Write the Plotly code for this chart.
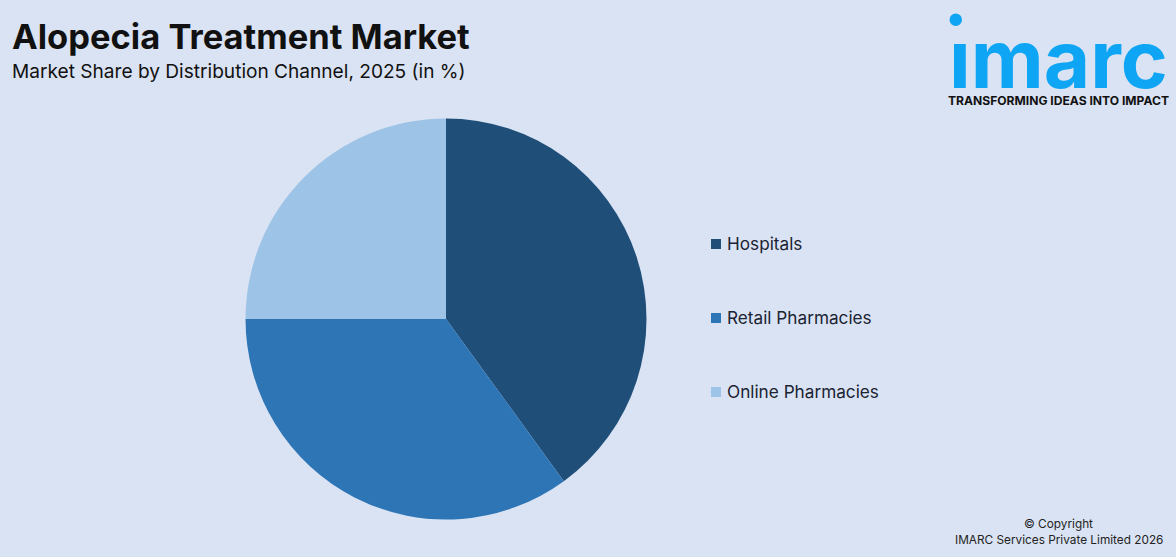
import plotly.graph_objects as go

W = 1176
H = 557

# chart data
channels = ["Hospitals", "Retail Pharmacies", "Online Pharmacies"]
shares = [40, 35, 25]
colors = ["#1f4e79", "#2e75b6", "#9dc3e6"]
legend_rows = [244, 318, 392]

BG = "#dae3f3"
LOGO = "#0ea5f4"
FONT = "Inter"


def px(x):
    return x / W


def py(y):
    return 1 - y / H


def label(x, y, text, size, color="#111111", anchor="left", family=FONT):
    fig.add_annotation(
        x=px(x), y=py(y), xref="paper", yref="paper",
        text=text, showarrow=False, xanchor=anchor, yanchor="middle",
        font=dict(family=family, size=size, color=color),
    )


fig = go.Figure(
    go.Pie(
        labels=channels,
        values=shares,
        sort=False,
        direction="clockwise",
        rotation=0,
        textinfo="none",
        hoverinfo="label+percent",
        marker=dict(colors=colors, line=dict(width=0)),
        domain=dict(x=[px(245.5), px(646.5)], y=[py(519.5), py(118.5)]),
        showlegend=False,
    )
)

# titles
label(10, 36, "<b>Alopecia Treatment Market</b>", 34.5)
label(10, 71, "Market Share by Distribution Channel, 2025 (in %)", 19.1)

# legend
for name, color, row in zip(channels, colors, legend_rows):
    fig.add_shape(
        type="rect", xref="paper", yref="paper",
        x0=px(711), x1=px(721), y0=py(row - 5), y1=py(row + 5),
        fillcolor=color, line_width=0,
    )
    label(725, row - 1, name, 17.2, color="#1a2433")

# logo
fig.add_shape(
    type="circle", xref="paper", yref="paper",
    x0=px(949.5), x1=px(962), y0=py(13.5), y1=py(26),
    fillcolor=LOGO, line_width=0,
)
label(1058, 59, "<b>ımarc</b>", 80, color=LOGO, anchor="center")
label(1058.5, 100, "<b>TRANSFORMING IDEAS INTO IMPACT</b>", 12.1, anchor="center")

# copyright
label(1058.5, 524, "© Copyright", 11.8, color="#222222", anchor="center")
label(1058.5, 540, "IMARC Services Private Limited 2026", 11.8, color="#222222", anchor="center")

fig.update_layout(
    width=W,
    height=H,
    margin=dict(l=0, r=0, t=0, b=0),
    paper_bgcolor=BG,
    plot_bgcolor=BG,
)

fig.write_html(
    "out.html",
    config=dict(displayModeBar=False),
    post_script="document.body.style.margin = '0';",
)
